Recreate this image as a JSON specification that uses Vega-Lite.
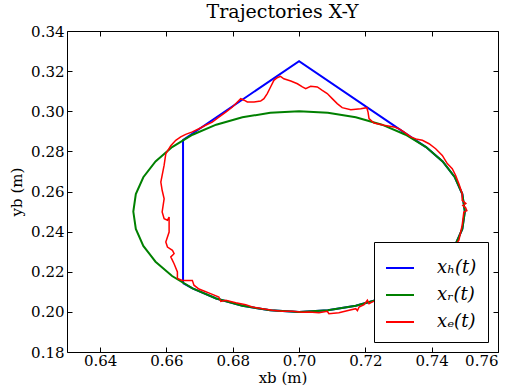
{
 "$schema": "https://vega.github.io/schema/vega-lite/v6.json",
 "width": 431,
 "height": 321,
 "padding": {"left": 9, "top": 3, "right": 5, "bottom": 5},
 "title": {"text": "Trajectories X-Y", "font": "DejaVu Serif", "fontSize": 19, "fontWeight": "normal", "color": "#000", "offset": 2},
 "config": {"view": {"stroke": "#000", "strokeWidth": 1}},
 "resolve": {"axis": {"x": "independent", "y": "independent"}},
 "datasets": {
  "h": [
   {"i":0,"x":0.665,"y":0.2143},{"i":1,"x":0.665,"y":0.2857},{"i":2,"x":0.700,"y":0.325},{"i":3,"x":0.735,"y":0.2857},
   {"i":4,"x":0.7383,"y":0.28214},{"i":5,"x":0.7433,"y":0.275},{"i":6,"x":0.74698,"y":0.2671},{"i":7,"x":0.74924,"y":0.25868},
   {"i":8,"x":0.75,"y":0.25},{"i":9,"x":0.74924,"y":0.24132},{"i":10,"x":0.74698,"y":0.2329},{"i":11,"x":0.7433,"y":0.225},
   {"i":12,"x":0.7383,"y":0.21786},{"i":13,"x":0.73214,"y":0.2117},{"i":14,"x":0.725,"y":0.2067},{"i":15,"x":0.7171,"y":0.20302},
   {"i":16,"x":0.70868,"y":0.20076},{"i":17,"x":0.70,"y":0.20},{"i":18,"x":0.69132,"y":0.20076},{"i":19,"x":0.6829,"y":0.20302},
   {"i":20,"x":0.675,"y":0.2067},{"i":21,"x":0.66786,"y":0.2117},{"i":22,"x":0.665,"y":0.2143}
  ],
  "r": [
   {"i":0,"x":0.75,"y":0.25},{"i":1,"x":0.74924,"y":0.25868},{"i":2,"x":0.74698,"y":0.2671},{"i":3,"x":0.7433,"y":0.275},
   {"i":4,"x":0.7383,"y":0.28214},{"i":5,"x":0.73214,"y":0.2883},{"i":6,"x":0.725,"y":0.2933},{"i":7,"x":0.7171,"y":0.29698},
   {"i":8,"x":0.70868,"y":0.29924},{"i":9,"x":0.70,"y":0.30},{"i":10,"x":0.69132,"y":0.29924},{"i":11,"x":0.6829,"y":0.29698},
   {"i":12,"x":0.675,"y":0.2933},{"i":13,"x":0.66786,"y":0.2883},{"i":14,"x":0.6617,"y":0.28214},{"i":15,"x":0.6567,"y":0.275},
   {"i":16,"x":0.65302,"y":0.2671},{"i":17,"x":0.65076,"y":0.25868},{"i":18,"x":0.65,"y":0.25},{"i":19,"x":0.65076,"y":0.24132},
   {"i":20,"x":0.65302,"y":0.2329},{"i":21,"x":0.6567,"y":0.225},{"i":22,"x":0.6617,"y":0.21786},{"i":23,"x":0.66786,"y":0.2117},
   {"i":24,"x":0.675,"y":0.2067},{"i":25,"x":0.6829,"y":0.20302},{"i":26,"x":0.69132,"y":0.20076},{"i":27,"x":0.70,"y":0.20},
   {"i":28,"x":0.70868,"y":0.20076},{"i":29,"x":0.7171,"y":0.20302},{"i":30,"x":0.725,"y":0.2067},{"i":31,"x":0.73214,"y":0.2117},
   {"i":32,"x":0.7383,"y":0.21786},{"i":33,"x":0.7433,"y":0.225},{"i":34,"x":0.74698,"y":0.2329},{"i":35,"x":0.74924,"y":0.24132},
   {"i":36,"x":0.75,"y":0.25}
  ],
  "e": [
   {"i":0,"x":0.6633,"y":0.2166},{"i":1,"x":0.6648,"y":0.2157},{"i":2,"x":0.6678,"y":0.2157},{"i":3,"x":0.6683,"y":0.2133},
   {"i":4,"x":0.6698,"y":0.2114},{"i":5,"x":0.6713,"y":0.2104},{"i":6,"x":0.6733,"y":0.2091},{"i":7,"x":0.6758,"y":0.2074},
   {"i":8,"x":0.6764,"y":0.2052},{"i":9,"x":0.6779,"y":0.2058},{"i":10,"x":0.6809,"y":0.2046},{"i":11,"x":0.6839,"y":0.2036},
   {"i":12,"x":0.6859,"y":0.2024},{"i":13,"x":0.6889,"y":0.2016},{"i":14,"x":0.6919,"y":0.2008},{"i":15,"x":0.6949,"y":0.2003},
   {"i":16,"x":0.6980,"y":0.2003},{"i":17,"x":0.7010,"y":0.1998},{"i":18,"x":0.7030,"y":0.1999},{"i":19,"x":0.7060,"y":0.1996},
   {"i":20,"x":0.7085,"y":0.2003},{"i":21,"x":0.7090,"y":0.1991},{"i":22,"x":0.7120,"y":0.1996},{"i":23,"x":0.7151,"y":0.2008},
   {"i":24,"x":0.7171,"y":0.2016},{"i":25,"x":0.7176,"y":0.2006},{"i":26,"x":0.7181,"y":0.2024},{"i":27,"x":0.7196,"y":0.2036},
   {"i":28,"x":0.7206,"y":0.2058},{"i":29,"x":0.7211,"y":0.2041},{"i":30,"x":0.7221,"y":0.2050},{"i":31,"x":0.7255,"y":0.2068},
   {"i":32,"x":0.7300,"y":0.2100},{"i":33,"x":0.7350,"y":0.2140},{"i":34,"x":0.7395,"y":0.2195},{"i":35,"x":0.7440,"y":0.2265},
   {"i":36,"x":0.7465,"y":0.2320},{"i":37,"x":0.7482,"y":0.2357},{"i":38,"x":0.7492,"y":0.2432},{"i":39,"x":0.7497,"y":0.2498},
   {"i":40,"x":0.7506,"y":0.2505},{"i":41,"x":0.7502,"y":0.2520},{"i":42,"x":0.7494,"y":0.2530},{"i":43,"x":0.7503,"y":0.2540},
   {"i":44,"x":0.7492,"y":0.2556},{"i":45,"x":0.7492,"y":0.2589},{"i":46,"x":0.7482,"y":0.2639},{"i":47,"x":0.7472,"y":0.2681},
   {"i":48,"x":0.7462,"y":0.2714},{"i":49,"x":0.7447,"y":0.2739},{"i":50,"x":0.7432,"y":0.2780},{"i":51,"x":0.7412,"y":0.2813},
   {"i":52,"x":0.7392,"y":0.2838},{"i":53,"x":0.7372,"y":0.2855},{"i":54,"x":0.7356,"y":0.2860},{"i":55,"x":0.7337,"y":0.2872},
   {"i":56,"x":0.7316,"y":0.2897},{"i":57,"x":0.7301,"y":0.2913},{"i":58,"x":0.7286,"y":0.2922},{"i":59,"x":0.7256,"y":0.2930},
   {"i":60,"x":0.7226,"y":0.2941},{"i":61,"x":0.7211,"y":0.2963},{"i":62,"x":0.7208,"y":0.2996},{"i":63,"x":0.7204,"y":0.3018},
   {"i":64,"x":0.7186,"y":0.3013},{"i":65,"x":0.7156,"y":0.3008},{"i":66,"x":0.7130,"y":0.3018},{"i":67,"x":0.7115,"y":0.3038},
   {"i":68,"x":0.7100,"y":0.3063},{"i":69,"x":0.7085,"y":0.3088},{"i":70,"x":0.7070,"y":0.3104},{"i":71,"x":0.7055,"y":0.3121},
   {"i":72,"x":0.7035,"y":0.3124},{"i":73,"x":0.7020,"y":0.3112},{"i":74,"x":0.7010,"y":0.3121},{"i":75,"x":0.6995,"y":0.3137},
   {"i":76,"x":0.6975,"y":0.3151},{"i":77,"x":0.6954,"y":0.3162},{"i":78,"x":0.6944,"y":0.3174},{"i":79,"x":0.6934,"y":0.3167},
   {"i":80,"x":0.6924,"y":0.3154},{"i":81,"x":0.6914,"y":0.3121},{"i":82,"x":0.6904,"y":0.3088},{"i":83,"x":0.6894,"y":0.3063},
   {"i":84,"x":0.6884,"y":0.3051},{"i":85,"x":0.6864,"y":0.3046},{"i":86,"x":0.6844,"y":0.3046},{"i":87,"x":0.6834,"y":0.3055},
   {"i":88,"x":0.6824,"y":0.3063},{"i":89,"x":0.6814,"y":0.3046},{"i":90,"x":0.6799,"y":0.3021},{"i":91,"x":0.6779,"y":0.2996},
   {"i":92,"x":0.6758,"y":0.2971},{"i":93,"x":0.6738,"y":0.2946},{"i":94,"x":0.6718,"y":0.2930},{"i":95,"x":0.6698,"y":0.2913},
   {"i":96,"x":0.6678,"y":0.2897},{"i":97,"x":0.6658,"y":0.2885},{"i":98,"x":0.6643,"y":0.2872},{"i":99,"x":0.6628,"y":0.2855},
   {"i":100,"x":0.6613,"y":0.2828},{"i":101,"x":0.6598,"y":0.2788},{"i":102,"x":0.6593,"y":0.2731},{"i":103,"x":0.6583,"y":0.2647},
   {"i":104,"x":0.6587,"y":0.2606},{"i":105,"x":0.6593,"y":0.2564},{"i":106,"x":0.6587,"y":0.2498},{"i":107,"x":0.6593,"y":0.2464},
   {"i":108,"x":0.6603,"y":0.2457},{"i":109,"x":0.6608,"y":0.2473},{"i":110,"x":0.6608,"y":0.2398},{"i":111,"x":0.6598,"y":0.2348},
   {"i":112,"x":0.6603,"y":0.2323},{"i":113,"x":0.6618,"y":0.2307},{"i":114,"x":0.6623,"y":0.2290},{"i":115,"x":0.6613,"y":0.2274},
   {"i":116,"x":0.6623,"y":0.2240},{"i":117,"x":0.6633,"y":0.2199},{"i":118,"x":0.6633,"y":0.2166}
  ]
 },
 "encoding": {
  "order": {"field": "i", "type": "quantitative"},
  "color": {"field": "s", "type": "nominal",
   "scale": {"domain": ["h", "r", "e"], "range": ["#0000ff", "#008000", "#ff0000"]},
   "legend": {"title": null, "orient": "bottom-right", "offset": 10, "fillColor": "#fff", "strokeColor": "#000", "padding": 11,
    "symbolType": "stroke", "symbolSize": 784, "symbolStrokeWidth": 2, "rowPadding": 3, "labelOffset": 22,
    "labelFont": "DejaVu Serif", "labelFontStyle": "italic", "labelFontSize": 18, "labelColor": "#000",
    "labelExpr": "datum.label == 'h' ? 'xₕ(t)' : datum.label == 'r' ? 'xᵣ(t)' : 'xₑ(t)'"}}
 },
 "layer": [
  {"data": {"name": "h"}, "transform": [{"calculate": "'h'", "as": "s"}], "mark": {"type": "line", "strokeWidth": 2},
   "encoding": {
    "x": {"field": "x", "type": "quantitative", "scale": {"domain": [0.63, 0.76], "nice": false, "zero": false},
     "axis": {"orient": "bottom", "title": "xb (m)", "values": [0.64,0.66,0.68,0.70,0.72,0.74,0.76], "format": ".2f", "grid": false, "domain": false,
      "ticks": false, "labelPadding": 1, "labelFont": "DejaVu Serif", "labelFontSize": 15, "labelColor": "#000",
      "titleFont": "DejaVu Serif", "titleFontSize": 15, "titleFontWeight": "normal", "titleColor": "#000", "titlePadding": 2}},
    "y": {"field": "y", "type": "quantitative", "scale": {"domain": [0.18, 0.34], "nice": false, "zero": false},
     "axis": {"orient": "left", "title": "yb (m)", "values": [0.18,0.20,0.22,0.24,0.26,0.28,0.30,0.32,0.34], "format": ".2f", "grid": false, "domain": false,
      "ticks": false, "labelPadding": 3, "labelFont": "DejaVu Serif", "labelFontSize": 15, "labelColor": "#000",
      "titleFont": "DejaVu Serif", "titleFontSize": 15, "titleFontWeight": "normal", "titleColor": "#000", "titlePadding": 6}}
   }},
  {"data": {"name": "r"}, "transform": [{"calculate": "'r'", "as": "s"}], "mark": {"type": "line", "strokeWidth": 2},
   "encoding": {
    "x": {"field": "x", "type": "quantitative", "scale": {"domain": [0.63, 0.76], "nice": false, "zero": false},
     "axis": {"orient": "bottom", "offset": -5, "title": null, "labels": false, "values": [0.64,0.66,0.68,0.70,0.72,0.74,0.76], "grid": false, "domain": false,
      "ticks": true, "tickSize": 5, "tickColor": "#000"}},
    "y": {"field": "y", "type": "quantitative", "scale": {"domain": [0.18, 0.34], "nice": false, "zero": false},
     "axis": {"orient": "left", "offset": -5, "title": null, "labels": false, "values": [0.18,0.20,0.22,0.24,0.26,0.28,0.30,0.32,0.34], "grid": false, "domain": false,
      "ticks": true, "tickSize": 5, "tickColor": "#000"}}
   }},
  {"data": {"name": "e"}, "transform": [{"calculate": "'e'", "as": "s"}], "mark": {"type": "line", "strokeWidth": 1.5},
   "encoding": {
    "x": {"field": "x", "type": "quantitative", "scale": {"domain": [0.63, 0.76], "nice": false, "zero": false},
     "axis": {"orient": "top", "offset": -5, "title": null, "labels": false, "values": [0.64,0.66,0.68,0.70,0.72,0.74,0.76], "grid": false, "domain": false,
      "ticks": true, "tickSize": 5, "tickColor": "#000"}},
    "y": {"field": "y", "type": "quantitative", "scale": {"domain": [0.18, 0.34], "nice": false, "zero": false},
     "axis": {"orient": "right", "offset": -5, "title": null, "labels": false, "values": [0.18,0.20,0.22,0.24,0.26,0.28,0.30,0.32,0.34], "grid": false, "domain": false,
      "ticks": true, "tickSize": 5, "tickColor": "#000"}}
   }}
 ]
}
